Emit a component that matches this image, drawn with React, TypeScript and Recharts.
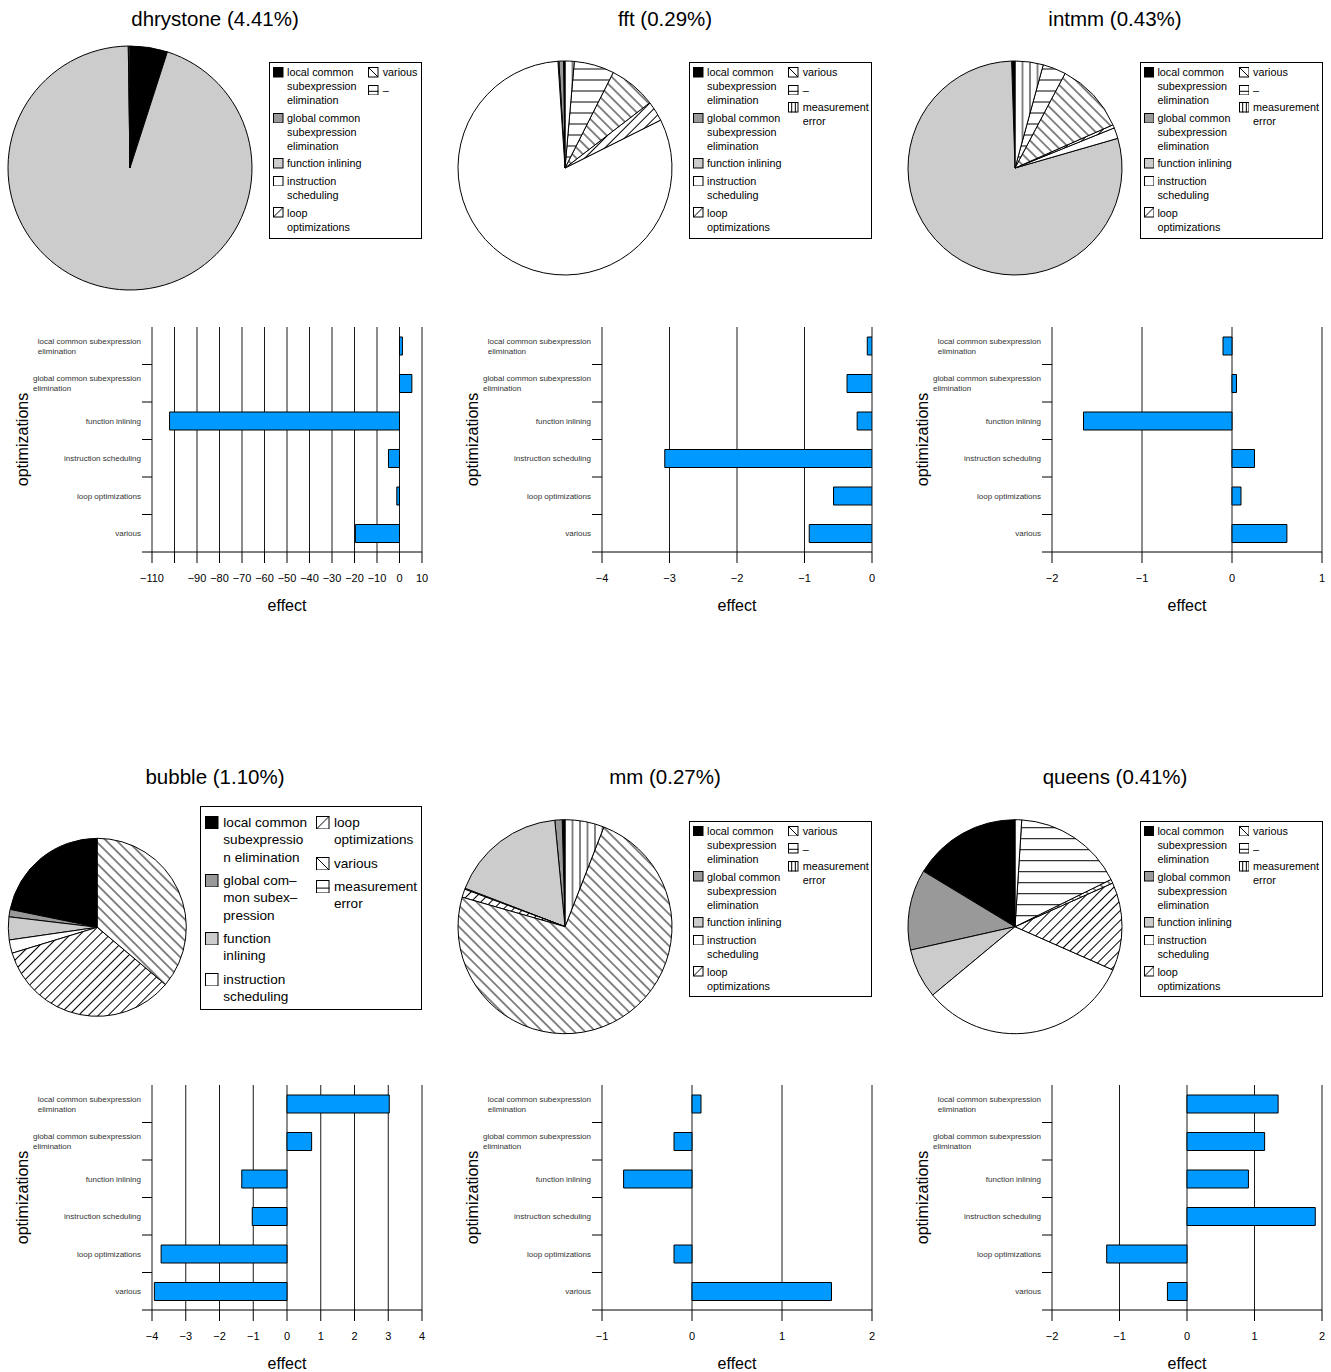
import React from 'react';
import { BarChart, Bar, XAxis, YAxis, CartesianGrid, PieChart, Pie, Cell, Legend, Label } from 'recharts';

const FONT = '"Liberation Sans", Arial, Helvetica, sans-serif';

// ---- categories of the bar charts (top to bottom) ----
const CATEGORIES = [
  'local common subexpression elimination',
  'global common subexpression elimination',
  'function inlining',
  'instruction scheduling',
  'loop optimizations',
  'various',
];
const CATEGORY_LINES = [
  ['local common subexpression', 'elimination'],
  ['global common subexpression', 'elimination'],
  ['function inlining'],
  ['instruction scheduling'],
  ['loop optimizations'],
  ['various'],
];

// ---- effect values per benchmark (same order as CATEGORIES) ----
const DHRYSTONE_EFFECT = [1.3, 5.5, -102.2, -4.9, -1.2, -19.6];
const FFT_EFFECT = [-0.07, -0.37, -0.22, -3.07, -0.57, -0.93];
const INTMM_EFFECT = [-0.1, 0.05, -1.65, 0.25, 0.1, 0.61];
const BUBBLE_EFFECT = [3.03, 0.73, -1.34, -1.03, -3.73, -3.93];
const MM_EFFECT = [0.1, -0.2, -0.76, 0, -0.2, 1.55];
const QUEENS_EFFECT = [1.35, 1.15, 0.91, 1.9, -1.19, -0.29];

// ---- x axis ticks and their labels ----
const DHRYSTONE_TICKS = [-110, -100, -90, -80, -70, -60, -50, -40, -30, -20, -10, 0, 10];
const DHRYSTONE_TICK_LABELS = ['−110', '', '−90', '−80', '−70', '−60', '−50', '−40', '−30', '−20', '−10', '0', '10'];
const FFT_TICKS = [-4, -3, -2, -1, 0];
const FFT_TICK_LABELS = ['−4', '−3', '−2', '−1', '0'];
const INTMM_TICKS = [-2, -1, 0, 1];
const INTMM_TICK_LABELS = ['−2', '−1', '0', '1'];
const BUBBLE_TICKS = [-4, -3, -2, -1, 0, 1, 2, 3, 4];
const BUBBLE_TICK_LABELS = ['−4', '−3', '−2', '−1', '0', '1', '2', '3', '4'];
const MM_TICKS = [-1, 0, 1, 2];
const MM_TICK_LABELS = ['−1', '0', '1', '2'];
const QUEENS_TICKS = [-2, -1, 0, 1, 2];
const QUEENS_TICK_LABELS = ['−2', '−1', '0', '1', '2'];

// ---- pie slices (degrees of the circle), legend order ----
const KEYS_7 = ['local', 'global', 'function', 'instruction', 'loop', 'various', 'dash'];
const KEYS_8 = ['local', 'global', 'function', 'instruction', 'loop', 'various', 'dash', 'meas'];
const KEYS_BUBBLE = ['local', 'global', 'function', 'instruction', 'loop', 'various', 'measH'];

const DHRYSTONE_SHARE = [17.8, 0.05, 341.35, 0, 0, 0.4, 0.4];
const FFT_SHARE = [0.8, 2.5, 0.5, 292.8, 11, 25.6, 21.8, 5];
const INTMM_SHARE = [1.5, 0.3, 284.3, 5.9, 1.8, 38.3, 12.6, 15.3];
const BUBBLE_SHARE = [78.4, 4.8, 15, 8.7, 123, 130, 0];
const MM_SHARE = [1.5, 4, 63.5, 0.5, 4.5, 264.7, 0, 21.3];
const QUEENS_SHARE = [58.8, 43.8, 27.1, 116.4, 47.9, 2.1, 60.2, 3.6];

const LEGEND_LABELS: Record<string, string[]> = {
  local: ['local common', 'subexpression', 'elimination'],
  global: ['global common', 'subexpression', 'elimination'],
  function: ['function inlining'],
  instruction: ['instruction', 'scheduling'],
  loop: ['loop', 'optimizations'],
  various: ['various'],
  dash: ['–'],
  meas: ['measurement', 'error'],
};
const BUBBLE_LEGEND_LABELS: Record<string, string[]> = {
  local: ['local common', 'subexpressio', 'n elimination'],
  global: ['global com–', 'mon subex–', 'pression'],
  function: ['function', 'inlining'],
  instruction: ['instruction', 'scheduling'],
  loop: ['loop', 'optimizations'],
  various: ['various'],
  measH: ['measurement', 'error'],
};

const SOLID: Record<string, string> = {
  local: '#000000',
  global: '#999999',
  function: '#cccccc',
  instruction: '#ffffff',
};
const HATCH: Record<string, { angle: number; gap: number }> = {
  loop: { angle: 45, gap: 7 },
  various: { angle: 135, gap: 7.5 },
  dash: { angle: 0, gap: 11 },
  meas: { angle: 90, gap: 7.5 },
  measH: { angle: 0, gap: 11 },
};

const BAR_COLOR = '#0099ff';
const PANEL_W = 450;
const ROW_H = 758;
const BAR_TOP = 320;
const BAR_W = 450;
const BAR_H = 300;
const PLOT_LEFT = 152;
const PLOT_TOP = 7;
const PLOT_H = 225;
const PLOT_BOTTOM = PLOT_TOP + PLOT_H;
const BAND = PLOT_H / CATEGORIES.length;

const PANELS = [
  { id: 'dhrystone', title: 'dhrystone (4.41%)', col: 0, row: 0, keys: KEYS_7, share: DHRYSTONE_SHARE, clockwise: true,
    pie: { cx: 130, cy: 168, r: 122 }, legend: { left: 269.3, top: 61.7, width: 153, height: 177, big: false, split: 5 },
    effect: DHRYSTONE_EFFECT, ticks: DHRYSTONE_TICKS, tickLabels: DHRYSTONE_TICK_LABELS },
  { id: 'fft', title: 'fft (0.29%)', col: 1, row: 0, keys: KEYS_8, share: FFT_SHARE, clockwise: false,
    pie: { cx: 115, cy: 168, r: 107 }, legend: { left: 239.3, top: 61.7, width: 183, height: 177, big: false, split: 5 },
    effect: FFT_EFFECT, ticks: FFT_TICKS, tickLabels: FFT_TICK_LABELS },
  { id: 'intmm', title: 'intmm (0.43%)', col: 2, row: 0, keys: KEYS_8, share: INTMM_SHARE, clockwise: false,
    pie: { cx: 115, cy: 168, r: 107 }, legend: { left: 239.7, top: 61.7, width: 183, height: 177, big: false, split: 5 },
    effect: INTMM_EFFECT, ticks: INTMM_TICKS, tickLabels: INTMM_TICK_LABELS },
  { id: 'bubble', title: 'bubble (1.10%)', col: 0, row: 1, keys: KEYS_BUBBLE, share: BUBBLE_SHARE, clockwise: false,
    pie: { cx: 97.3, cy: 169.3, r: 89 }, legend: { left: 200, top: 48, width: 222, height: 203.5, big: true, split: 4 },
    effect: BUBBLE_EFFECT, ticks: BUBBLE_TICKS, tickLabels: BUBBLE_TICK_LABELS },
  { id: 'mm', title: 'mm (0.27%)', col: 1, row: 1, keys: KEYS_8, share: MM_SHARE, clockwise: false,
    pie: { cx: 115, cy: 168.7, r: 107 }, legend: { left: 239.3, top: 62.5, width: 183, height: 176, big: false, split: 5 },
    effect: MM_EFFECT, ticks: MM_TICKS, tickLabels: MM_TICK_LABELS },
  { id: 'queens', title: 'queens (0.41%)', col: 2, row: 1, keys: KEYS_8, share: QUEENS_SHARE, clockwise: false,
    pie: { cx: 115, cy: 168.7, r: 107 }, legend: { left: 239.7, top: 62.5, width: 183, height: 176, big: false, split: 5 },
    effect: QUEENS_EFFECT, ticks: QUEENS_TICKS, tickLabels: QUEENS_TICK_LABELS },
];

let measureCtx: CanvasRenderingContext2D | null = null;
function textWidth(s: string, font: string) {
  if (!measureCtx) measureCtx = document.createElement('canvas').getContext('2d');
  if (!measureCtx) return s.length * 4;
  measureCtx.font = font;
  return measureCtx.measureText(s).width;
}

function CategoryTick(props: any) {
  const { y, payload } = props;
  const idx = CATEGORIES.indexOf(payload.value);
  const lines = CATEGORY_LINES[idx] || [payload.value];
  const font = `8px ${FONT}`;
  const right = PLOT_LEFT - 11;
  const w = Math.max(...lines.map((l) => textWidth(l, font)));
  const boundary = y + BAND / 2;
  return (
    <g>
      <line x1={PLOT_LEFT - 10} y1={boundary} x2={PLOT_LEFT} y2={boundary} stroke="#000" />
      {lines.map((l, i) => (
        <text
          key={i}
          x={lines.length > 1 ? right - w : right}
          y={y + 0.5 + (i - (lines.length - 1) / 2) * 10}
          textAnchor={lines.length > 1 ? 'start' : 'end'}
          dominantBaseline="central"
          fontSize={8}
          fill="#333"
        >
          {l}
        </text>
      ))}
    </g>
  );
}

function makeXTick(ticks: number[], labels: string[]) {
  return (props: any) => {
    const { x, payload } = props;
    const label = labels[ticks.indexOf(payload.value)];
    if (!label) return <g />;
    return (
      <text x={x} y={PLOT_BOTTOM + 26} textAnchor="middle" dominantBaseline="central" fontSize={11} fill="#000">
        {label}
      </text>
    );
  };
}

function EffectChart({ p }: { p: (typeof PANELS)[number] }) {
  const data = CATEGORIES.map((name, i) => ({ name, effect: p.effect[i] }));
  const XTick = makeXTick(p.ticks, p.tickLabels);
  return (
    <BarChart
      width={BAR_W}
      height={BAR_H}
      data={data}
      layout="vertical"
      margin={{ top: PLOT_TOP, right: BAR_W - 422, bottom: 0, left: 0 }}
    >
      <CartesianGrid horizontal={false} stroke="#1a1a1a" />
      <XAxis
        type="number"
        domain={[p.ticks[0], p.ticks[p.ticks.length - 1]]}
        ticks={p.ticks}
        interval={0}
        allowDataOverflow
        height={BAR_H - PLOT_BOTTOM}
        tickSize={11}
        tickLine={{ stroke: '#000' }}
        axisLine={{ stroke: '#000' }}
        tick={<XTick />}
      >
        <Label
          content={() => (
            <text x={PLOT_LEFT + 135} y={285} textAnchor="middle" dominantBaseline="central" fontSize={16} fill="#000">
              effect
            </text>
          )}
        />
      </XAxis>
      <YAxis
        type="category"
        dataKey="name"
        width={PLOT_LEFT}
        interval={0}
        axisLine={false}
        tickLine={false}
        tick={<CategoryTick />}
      >
        <Label
          content={() => (
            <text
              x={22}
              y={PLOT_TOP + PLOT_H / 2}
              transform={`rotate(-90 22 ${PLOT_TOP + PLOT_H / 2})`}
              textAnchor="middle"
              dominantBaseline="central"
              fontSize={16}
              fill="#000"
            >
              optimizations
            </text>
          )}
        />
      </YAxis>
      <Bar dataKey="effect" fill={BAR_COLOR} stroke="#000" strokeWidth={1} barSize={18} isAnimationActive={false} />
    </BarChart>
  );
}

function LegendIcon({ k, size }: { k: string; size: number }) {
  const s = size;
  return (
    <svg width={s} height={s} style={{ display: 'block' }}>
      <rect x={0.5} y={0.5} width={s - 1} height={s - 1} fill={SOLID[k] ?? '#fff'} stroke="#000" />
      {k === 'loop' && <line x1={0.5} y1={s - 0.5} x2={s - 0.5} y2={0.5} stroke="#000" />}
      {k === 'various' && <line x1={0.5} y1={0.5} x2={s - 0.5} y2={s - 0.5} stroke="#000" />}
      {(k === 'dash' || k === 'measH') && <line x1={0} y1={s * 0.6} x2={s} y2={s * 0.6} stroke="#000" />}
      {k === 'meas' && (
        <>
          <line x1={s * 0.35} y1={0} x2={s * 0.35} y2={s} stroke="#000" />
          <line x1={s * 0.7} y1={0} x2={s * 0.7} y2={s} stroke="#000" />
        </>
      )}
    </svg>
  );
}

function PieLegend({ p }: { p: (typeof PANELS)[number] }) {
  const { big, width, height, split } = p.legend;
  const labels = big ? BUBBLE_LEGEND_LABELS : LEGEND_LABELS;
  const fs = big ? 13.6 : 10.8;
  const lh = big ? 17.4 : 14;
  const gap = big ? 5.8 : 3.6;
  const padTop = big ? 8 : 3.6;
  const icon = big ? 13.5 : 10.5;
  const colX = big ? [[5, 23.3], [116, 134]] : [[4, 17.7], [99, 113.4]];
  const cols = [p.keys.slice(0, split), p.keys.slice(split)];
  return (
    <div
      style={{
        position: 'relative',
        width,
        height,
        border: '1px solid #000',
        boxSizing: 'border-box',
        background: '#fff',
        fontFamily: FONT,
        fontSize: fs,
        lineHeight: `${lh}px`,
        color: '#000',
      }}
    >
      {cols.map((col, ci) => {
        let y = padTop - 1;
        return col.map((k) => {
          const lines = labels[k];
          const top = y;
          y += lines.length * lh + gap;
          return (
            <div key={k} style={{ position: 'absolute', left: colX[ci][0] - 1, top, whiteSpace: 'nowrap' }}>
              <div style={{ position: 'absolute', left: 0, top: (lh - icon) / 2 }}>
                <LegendIcon k={k} size={icon} />
              </div>
              <div style={{ position: 'absolute', left: colX[ci][1] - colX[ci][0], top: 0 }}>
                {lines.map((l, i) => (
                  <div key={i}>{l}</div>
                ))}
              </div>
            </div>
          );
        });
      })}
    </div>
  );
}

function HatchDefs({ p }: { p: (typeof PANELS)[number] }) {
  return (
    <svg width={0} height={0} style={{ position: 'absolute', left: 0, top: 0 }}>
      <defs>
        {Object.entries(HATCH).map(([k, h]) => (
          <pattern
            key={k}
            id={`${p.id}-${k}`}
            patternUnits="userSpaceOnUse"
            width={60}
            height={h.gap}
            patternTransform={`translate(${p.pie.cx} ${p.pie.cy}) rotate(${-h.angle}) translate(0 ${-h.gap / 2})`}
          >
            <rect width={60} height={h.gap} fill="#fff" />
            <line x1={0} y1={h.gap / 2} x2={60} y2={h.gap / 2} stroke="#000" strokeWidth={1} />
          </pattern>
        ))}
      </defs>
    </svg>
  );
}

function Panel({ p }: { p: (typeof PANELS)[number] }) {
  const slices = p.keys.map((k, i) => ({ name: k, value: p.share[i] }));
  return (
    <div style={{ position: 'absolute', left: p.col * PANEL_W, top: p.row * ROW_H, width: PANEL_W, height: ROW_H }}>
      <div
        style={{
          position: 'absolute',
          left: 0,
          top: 7,
          width: 430,
          textAlign: 'center',
          fontSize: 20.5,
          lineHeight: '24px',
          color: '#000',
        }}
      >
        {p.title}
      </div>
      <HatchDefs p={p} />
      <div style={{ position: 'absolute', left: 0, top: 0 }}>
        <PieChart width={PANEL_W} height={300} margin={{ top: 0, right: 0, bottom: 0, left: 0 }}>
          <Pie
            data={slices}
            dataKey="value"
            nameKey="name"
            cx={p.pie.cx}
            cy={p.pie.cy}
            outerRadius={p.pie.r}
            innerRadius={0}
            startAngle={90}
            endAngle={p.clockwise ? -270 : 450}
            stroke="#000"
            strokeWidth={1}
            label={false}
            labelLine={false}
            isAnimationActive={false}
          >
            {slices.map((s) => (
              <Cell key={s.name} fill={SOLID[s.name] ?? `url(#${p.id}-${s.name})`} />
            ))}
          </Pie>
          <Legend
            content={() => <PieLegend p={p} />}
            wrapperStyle={{ left: p.legend.left, top: p.legend.top, width: p.legend.width, height: p.legend.height }}
          />
        </PieChart>
      </div>
      <div style={{ position: 'absolute', left: 0, top: BAR_TOP }}>
        <EffectChart p={p} />
      </div>
    </div>
  );
}

export default function App() {
  return (
    <div
      style={{
        position: 'absolute',
        left: 0,
        top: 0,
        width: 1331,
        height: 1372,
        background: '#fff',
        overflow: 'hidden',
        fontFamily: FONT,
      }}
    >
      {PANELS.map((p) => (
        <Panel key={p.id} p={p} />
      ))}
    </div>
  );
}
